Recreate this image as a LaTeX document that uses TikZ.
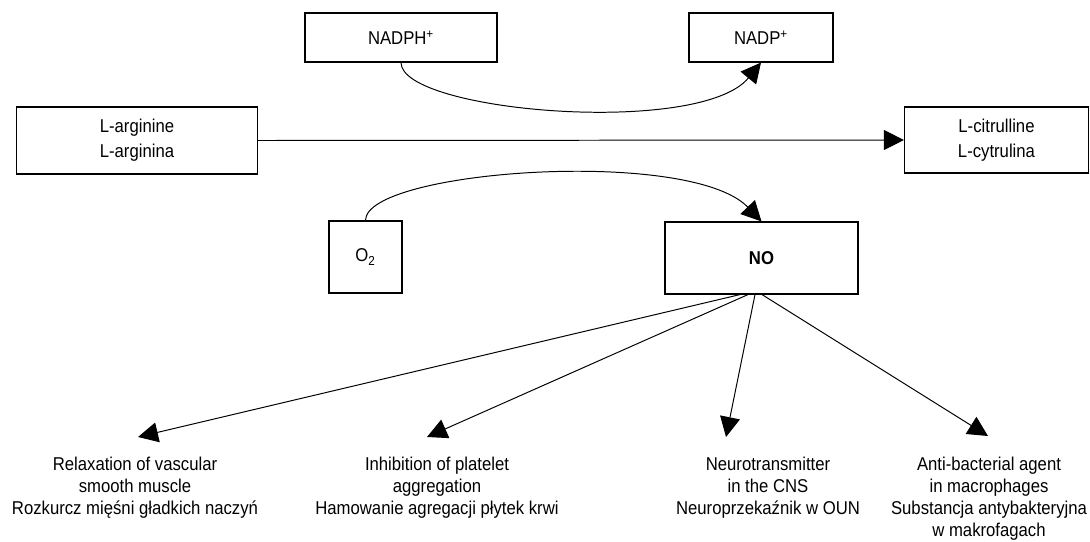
\documentclass[tikz,border=0pt]{standalone}
\usepackage{fontspec}
\setmainfont{Liberation Sans}[FakeStretch=0.90]
\usetikzlibrary{arrows.meta,calc}
\begin{document}
\begin{tikzpicture}[x=0.025cm,y=-0.025cm,
  box/.style={draw, line width=0.8pt, rectangle, inner sep=0pt, align=center,
    font=\fontsize{13.2}{17.8}\selectfont},
  lbl/.style={inner sep=0pt, align=center, anchor=north,
    font=\fontsize{13.2}{15.6}\selectfont},
  conn/.style={line width=0.7pt, -{Triangle[length=0.5cm,width=0.5cm]}}]
\useasboundingbox (0,0) rectangle (1090,541);
% boxes
\node[box, minimum width=4.8cm, minimum height=1.225cm] (nadph) at (401,37.5) {NADPH\textsuperscript{+}};
\node[box, minimum width=3.6cm, minimum height=1.225cm] (nadp) at (761,37.5) {NADP\textsuperscript{+}};
\node[box, minimum width=6.025cm, minimum height=1.675cm] (larg) at (137,140.5) {L-arginine\\L-arginina};
\node[box, minimum width=4.6cm, minimum height=1.65cm] (lcit) at (996.5,140) {L-citrulline\\L-cytrulina};
\node[box, minimum width=1.825cm, minimum height=1.8cm] (o2) at (365.5,257) {O\textsubscript{2}};
\node[box, minimum width=4.825cm, minimum height=1.8cm] (no) at (761.5,258) {\bfseries NO};
% bottom labels
\node[lbl] (relax) at (135,457) {Relaxation of vascular\\smooth muscle\\Rozkurcz mięśni gładkich naczyń};
\node[lbl] (inhib) at (437,457) {Inhibition of platelet\\aggregation\\Hamowanie agregacji płytek krwi};
\node[lbl] (neuro) at (768,457) {Neurotransmitter\\in the CNS\\Neuroprzekaźnik w OUN};
\node[lbl] (anti) at (989,457) {Anti-bacterial agent\\in macrophages\\Substancja antybakteryjna\\w makrofagach};
% arrow tips
\coordinate (t1) at (138,437);
\coordinate (t2) at (427,437);
\coordinate (t3) at (726,437);
\coordinate (t4) at (988,436);
% connectors
\draw[conn] (larg.east) -- (lcit.west);
\draw[conn] (nadph.south) .. controls (401,112) and (700,137) .. (nadp.south);
\draw[conn] (o2.north) .. controls (365.5,170) and (690,147) .. (no.north);
\draw[conn] ($(no.south)+(-21.5,0)$) -- (t1);
\draw[conn] ($(no.south)+(-13.5,0)$) -- (t2);
\draw[conn] ($(no.south)+(-6.5,0)$) -- (t3);
\draw[conn] ($(no.south)+(0.5,0)$) -- (t4);
\end{tikzpicture}
\end{document}
